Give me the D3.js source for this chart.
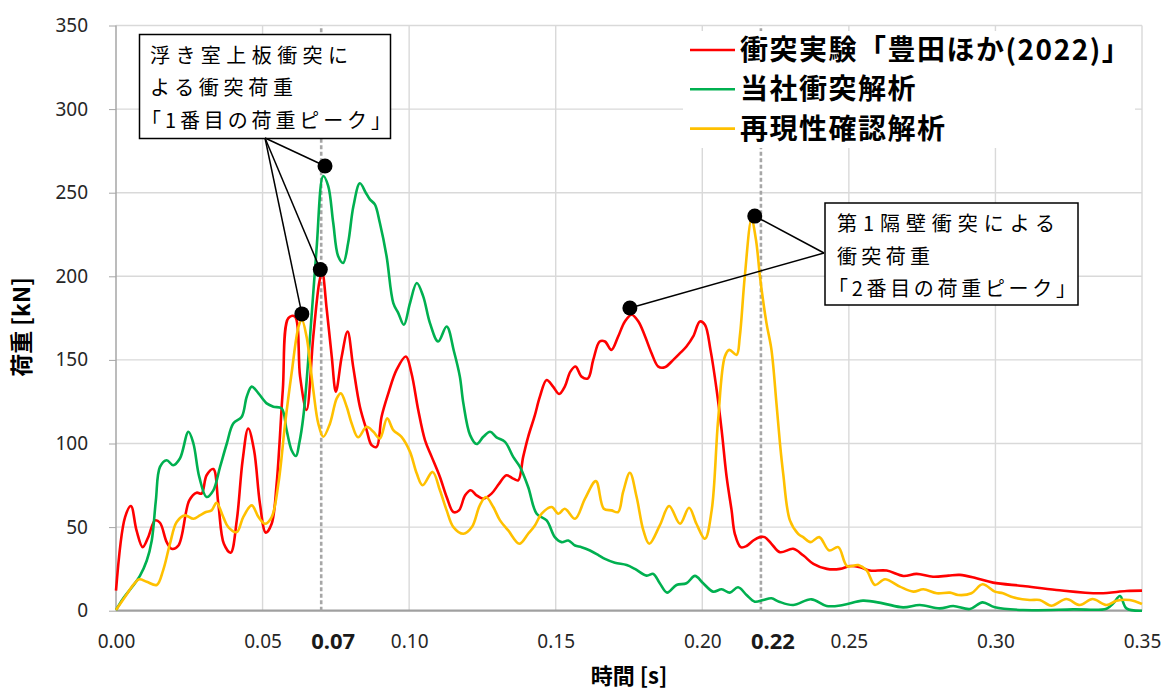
<!DOCTYPE html>
<html>
<head>
<meta charset="utf-8">
<style>
  body { margin: 0; background: #fff; }
  text { font-family: "Noto Sans", "Noto Sans CJK JP", sans-serif; }
  .jp { font-family: "Noto Sans CJK JP", sans-serif; }
</style>
</head>
<body>
<div id="chart"></div>
<script src="https://d3js.org/d3.v7.min.js"></script>
<script>
    // 時間 [ms] と 荷重 [kN]
    const expT = [0, 3.1, 5.1, 7.0, 9.1, 11, 13.3, 15, 17.3, 19, 21.3, 25, 27.5, 29.2, 30.9, 33.2, 34.9, 36.8, 39.1, 41.2,
      43.2, 45.1, 47.1, 49.1, 51.1, 53.1, 54.8, 56.9, 58.8, 61.0, 62.8, 65, 67.3, 69.3, 70.3, 71.9, 73.6, 75, 77, 79,
      80.9, 83.2, 85.5, 87.2, 88.9, 90.6, 92.9, 95.7, 98.9, 100.8, 103.1, 105.4, 107.7, 110.5, 112.8, 115.1, 117, 119.1, 121, 123,
      125.3, 128.1, 130.7, 133.2, 135.5, 137.2, 138.9, 140.6, 142.9, 144.6, 146.9, 149.1, 151.2, 153.1, 155, 156.8, 158.8, 161, 162.8, 165,
      166.8, 169, 171.3, 173.6, 175.9, 178.2, 180.5, 182.7, 185, 187.2, 190.1, 192.4, 194.6, 196.9, 199.2, 200.9, 202.8, 204.9, 206.6, 208.3,
      210, 211.1, 213.1, 215.1, 217.4, 219.6, 221.3, 223.6, 226.5, 231, 234.5, 237.9, 242.5, 247, 250.4, 253.8, 257.2, 262.9, 268.6, 273.1,
      278.7, 284, 287.9, 293.5, 299.2, 309.4, 320.8, 335.6, 344.7, 350]
    const expV = [12, 56, 62.6, 48, 38, 44, 54, 52.6, 41, 37, 39, 66, 70.6, 70, 81, 84.7, 64, 40, 34.7, 54,
      90, 109, 96, 64, 46.7, 52, 76, 132, 175, 176, 140, 120, 164, 196, 203, 180, 152, 131, 152, 167,
      146, 122, 108, 99, 98, 116, 130, 144, 152, 142, 120, 102, 92, 80, 68, 59, 60, 69, 72, 69,
      67, 70, 76, 81, 79, 78, 92, 104, 117, 128, 138, 134, 129.6, 134, 143, 146, 140, 139, 150, 161,
      161, 156, 164, 173, 177, 173, 164, 154, 146, 145.6, 150, 154, 158, 164, 173, 171, 156, 132, 108, 80,
      60, 46, 38, 38.7, 42, 44, 44, 40, 35, 37, 33, 28, 25, 25, 26.7, 26, 24, 24, 20.8, 22,
      20.3, 21, 21.4, 19.4, 16.8, 14.8, 12.4, 10.4, 11.8, 12]

    const anaT = [0, 2.5, 5.4, 8.2, 10.5, 12.2, 13.6, 15, 17.3, 19.5, 21.8, 24.7, 26.4, 28.4, 30.9, 33.2, 35.5, 37.8, 40, 42.9,
      44.6, 46.3, 48.6, 51.4, 53.7, 56.5, 58.2, 59.9, 61.4, 62.5, 63.9, 66.2, 68.4, 70.7, 72.4, 74.1, 75.8, 77.5, 79.2, 81,
      83.2, 85.2, 86.6, 88.3, 90, 92.3, 94.6, 96.3, 98.2, 100.3, 102.6, 104.8, 107.1, 109.9, 112.8, 115.3, 117.3, 118.5, 120.8, 123,
      125.3, 127.6, 129.8, 132.7, 135.5, 137.8, 140.6, 143.5, 146.9, 149.7, 152, 154.3, 156.6, 158.8, 161.7, 164.8, 166.8, 170.2, 174.2, 177,
      181, 183.3, 185.5, 188, 191.2, 194.6, 197.5, 200.3, 203.7, 206.6, 209.4, 212.2, 215.1, 217.9, 220.8, 223.6, 226.2, 231, 237.2, 242.4,
      248, 254.8, 261.6, 268.5, 274.2, 281, 285.6, 291.3, 295.6, 299.8, 309.4, 326.5, 337.9, 340.2, 342.5, 344.7, 350]
    const anaV = [0.4, 7.4, 14, 21, 30, 42, 66, 86, 90, 87, 91, 107, 100, 80, 68, 72, 86, 100, 112, 116,
      128, 134, 130, 124, 122, 121, 108, 96, 92.5, 100, 116, 164, 216, 260, 254, 232, 212, 208, 220, 242,
      255.6, 250, 246, 243, 232, 212, 184, 178, 171, 184, 196, 188, 172, 161, 170, 155, 140, 124, 105, 99.7,
      104, 107, 103.7, 101, 92, 86, 74, 58, 54, 44, 41, 42, 39, 38, 36, 33, 31, 28.7, 27.3, 25,
      21, 22, 16.4, 10.8, 15.4, 16.4, 20.8, 16.4, 11.4, 12.8, 10.8, 14, 9.4, 5.4, 6.4, 7.4, 5.4, 3.4, 6.8, 2.8,
      3.4, 6, 4.4, 2, 3.4, 1.4, 2.8, 1, 5, 2, 0.4, 0.8, 1.2, 4.4, 8.8, 1.4, 0]

    const repT = [0, 3.1, 5.9, 7.9, 10.5, 13.9, 16.1, 18.4, 20.7, 23.5, 26.4, 28.6, 30.7, 32.6, 34.3, 36.6, 38.3, 41.2, 43.4, 46.3,
      48.6, 50.8, 53.1, 55.4, 57.7, 59.9, 62.3, 63.4, 65, 67.3, 69, 70.7, 73, 75.3, 76.7, 78.7, 80.4, 82.6, 85.5, 87.8,
      90, 92.5, 94.6, 97.4, 100.3, 102.6, 104.6, 108, 110.5, 112.8, 115.1, 118.5, 121.4, 124.1, 126.2, 128.7, 131, 133.8, 137.6, 140.6,
      142.9, 145.2, 148.6, 150.9, 153.1, 156.6, 160, 163.7, 166.4, 169, 171.3, 173, 175.3, 177.6, 179.9, 181.9, 185.5, 188.7, 192.4, 195.5,
      198, 200.9, 203.2, 205.4, 207.7, 209.2, 211.7, 212.8, 214.5, 216.8, 218.3, 219.8, 221.9, 223.6, 225.3, 226.5, 227.6, 229.9, 232.7, 234.4,
      236.9, 239.9, 243.3, 246.4, 249.4, 253.2, 256, 258.9, 262.3, 267.4, 272, 275.4, 280, 284.5, 287.3, 291.8, 295.6, 299.8, 302.6, 306,
      311.7, 315.1, 319.1, 324.2, 328.8, 333.1, 337.9, 341.3, 345.8, 350]
    const repV = [0.4, 8.4, 15.4, 18.8, 17.3, 15.4, 24.3, 40, 53, 57, 55, 57, 59, 60, 64.6, 56, 50, 47, 56, 63,
      56, 52, 56, 76, 112, 142, 170, 174, 164, 132, 112, 104, 112, 127, 130, 122, 112, 103.7, 110, 107,
      103, 115, 108, 104, 95, 82, 75, 83, 72, 60, 50, 46, 50, 63, 68, 62, 54, 48, 40, 46,
      51, 58, 62, 58, 61, 55, 67, 77.5, 61, 60, 59, 71, 82.5, 68, 48, 40, 51, 62.6, 52, 61.6,
      52, 43, 60, 114, 152, 156, 153, 164, 200, 234, 222, 198, 172, 156, 124, 100, 82, 54, 46, 44,
      41, 44, 36, 38, 26.7, 27.3, 24.3, 15.4, 18.8, 14.4, 11.4, 12.8, 10.4, 10.8, 9.4, 10.4, 15.8, 11.4, 10.4, 8,
      6.4, 6.4, 3, 7, 3.4, 7, 3.4, 6, 6.4, 4]

    const seriesNames = ['衝突実験「豊田ほか(2022)」', '当社衝突解析', '再現性確認解析']
    const seriesColors = ['#ff0000', '#00b050', '#ffc000']

    const xTicks = [0, 0.05, 0.10, 0.15, 0.20, 0.25, 0.30, 0.35]
    const xTickLabels = ['0.00', '0.05', '0.10', '0.15', '0.20', '0.25', '0.30', '0.35']
    const yTicks = [0, 50, 100, 150, 200, 250, 300, 350]
    const markT = [0.07, 0.22]
    const markLabels = ['0.07', '0.22']

    // ピーク位置（黒丸）
    const peak1T = [0.0713, 0.0697, 0.0634]
    const peak1V = [266, 204, 177.5]
    const peak2T = [0.2179, 0.1753]
    const peak2V = [236, 181]
    const note1 = ['浮き室上板衝突に', 'よる衝突荷重', '「1番目の荷重ピーク」']
    const note2 = ['第1隔壁衝突による', '衝突荷重', '「2番目の荷重ピーク」']

    const W = 1165, H = 693
    const svg = d3.select('#chart').append('svg')
                  .attr('width', W).attr('height', H)

    const xScale = d3.scaleLinear().domain([0, 0.35]).range([116, 1142])
    const yScale = d3.scaleLinear().domain([0, 350]).range([610.7, 25.5])

    // grid
    svg.append('g').selectAll('line')
       .data(xTicks.slice(1))
       .join('line')
       .attr('x1', d => xScale(d)).attr('x2', d => xScale(d))
       .attr('y1', yScale(0)).attr('y2', yScale(350))
       .attr('stroke', '#d9d9d9').attr('stroke-width', 1.4)
    svg.append('g').selectAll('line')
       .data(yTicks.slice(1))
       .join('line')
       .attr('x1', xScale(0)).attr('x2', xScale(0.35))
       .attr('y1', d => yScale(d)).attr('y2', d => yScale(d))
       .attr('stroke', '#d9d9d9').attr('stroke-width', 1.4)

    // axes
    const yAxis = svg.append('g')
       .attr('transform', `translate(${xScale(0)},0)`)
       .call(d3.axisLeft(yScale).tickValues(yTicks).tickSize(7).tickPadding(21))
    yAxis.select('.domain').remove()
    yAxis.selectAll('line').attr('stroke', '#a6a6a6')
    yAxis.selectAll('text').attr('font-size', 19).attr('fill', '#262626')
         .style('font-family', '"Noto Sans", sans-serif')

    const xAxis = svg.append('g')
       .attr('transform', `translate(0,${yScale(0)})`)
       .call(d3.axisBottom(xScale).tickValues(xTicks).tickSize(0).tickPadding(24)
               .tickFormat((d, i) => xTickLabels[i]))
    xAxis.select('.domain').remove()
    xAxis.selectAll('text').attr('font-size', 19).attr('fill', '#262626')
         .style('font-family', '"Noto Sans", sans-serif')

    svg.append('line')
       .attr('x1', xScale(0)).attr('x2', xScale(0))
       .attr('y1', yScale(0)).attr('y2', yScale(350))
       .attr('stroke', '#a6a6a6').attr('stroke-width', 1.5)
    svg.append('line')
       .attr('x1', xScale(0)).attr('x2', xScale(0.35))
       .attr('y1', yScale(0)).attr('y2', yScale(0))
       .attr('stroke', '#a0a0a0').attr('stroke-width', 2.2)

    // dashed marker lines
    svg.append('g').selectAll('line')
       .data(markT)
       .join('line')
       .attr('x1', d => xScale(d)).attr('x2', d => xScale(d))
       .attr('y1', yScale(0)).attr('y2', yScale(350))
       .attr('stroke', '#a6a6a6').attr('stroke-width', 2.6)
       .attr('stroke-dasharray', '4,2.5')
    svg.append('g').selectAll('text')
       .data(markT)
       .join('text')
       .attr('x', d => xScale(d) + 12)
       .attr('y', 649)
       .attr('text-anchor', 'middle')
       .attr('font-size', 22).attr('font-weight', 'bold').attr('fill', '#1a1a1a')
       .text((d, i) => markLabels[i])

    // curves
    const series = [
      expT.map((t, i) => [t / 1000, expV[i]]),
      anaT.map((t, i) => [t / 1000, anaV[i]]),
      repT.map((t, i) => [t / 1000, repV[i]])
    ]
    const lineGen = d3.line()
                      .x(d => xScale(d[0]))
                      .y(d => yScale(d[1]))
                      .curve(d3.curveCatmullRom.alpha(0.5))
    svg.append('g').selectAll('path')
       .data(series)
       .join('path')
       .attr('d', lineGen)
       .attr('fill', 'none')
       .attr('stroke', (d, i) => seriesColors[i])
       .attr('stroke-width', 2.6)
       .attr('stroke-linejoin', 'round')

    // axis titles
    svg.append('text').attr('class', 'jp')
       .attr('x', 629).attr('y', 684)
       .attr('text-anchor', 'middle')
       .attr('font-size', 22).attr('font-weight', 'bold')
       .text('時間 [s]')
    svg.append('text').attr('class', 'jp')
       .attr('transform', 'translate(30,327) rotate(-90)')
       .attr('text-anchor', 'middle')
       .attr('font-size', 23).attr('font-weight', 'bold')
       .text('荷重 [kN]')

    // legend
    svg.append('rect')
       .attr('x', 683).attr('y', 31).attr('width', 452).attr('height', 117)
       .attr('fill', '#fff')
    const legend = svg.append('g').selectAll('g')
       .data(seriesNames)
       .join('g')
       .attr('transform', (d, i) => `translate(690,${50 + i * 39.3})`)
    legend.append('line')
       .attr('x1', 0).attr('x2', 45)
       .attr('stroke', (d, i) => seriesColors[i]).attr('stroke-width', 2.6)
    legend.append('text').attr('class', 'jp')
       .attr('x', 50).attr('dy', '0.36em')
       .attr('font-size', 28).attr('font-weight', 'bold')
       .attr('letter-spacing', 1.5)
       .text(d => d)

    // annotation boxes
    function noteBox(x, y, w, h, lines, starts, widths) {
      svg.append('rect')
         .attr('x', x).attr('y', y).attr('width', w).attr('height', h)
         .attr('fill', '#fff').attr('stroke', '#000').attr('stroke-width', 1.5)
      svg.append('g').selectAll('text')
         .data(lines)
         .join('text').attr('class', 'jp')
         .attr('x', (d, i) => starts[i])
         .attr('y', (d, i) => y + 28 + i * 32.5)
         .attr('font-size', 20)
         .attr('textLength', (d, i) => widths[i])
         .attr('lengthAdjust', 'spacing')
         .text(d => d)
    }
    noteBox(139.5, 34.5, 251, 104, note1, [150, 150, 141], [198, 143, 250])
    noteBox(825, 203, 253, 102, note2, [837, 837, 828], [218, 93, 248])

    // leader lines + dots
    const leaders = [
      {ax: 265, ay: 138, t: peak1T, v: peak1V},
      {ax: 824, ay: 253, t: peak2T, v: peak2V}
    ]
    leaders.forEach(l => {
      svg.append('g').selectAll('line')
         .data(l.t)
         .join('line')
         .attr('x1', l.ax).attr('y1', l.ay)
         .attr('x2', d => xScale(d)).attr('y2', (d, i) => yScale(l.v[i]))
         .attr('stroke', '#000').attr('stroke-width', 1.5)
      svg.append('g').selectAll('circle')
         .data(l.t)
         .join('circle')
         .attr('cx', d => xScale(d)).attr('cy', (d, i) => yScale(l.v[i]))
         .attr('r', 7.5).attr('fill', '#000')
    })
</script>
</body>
</html>
